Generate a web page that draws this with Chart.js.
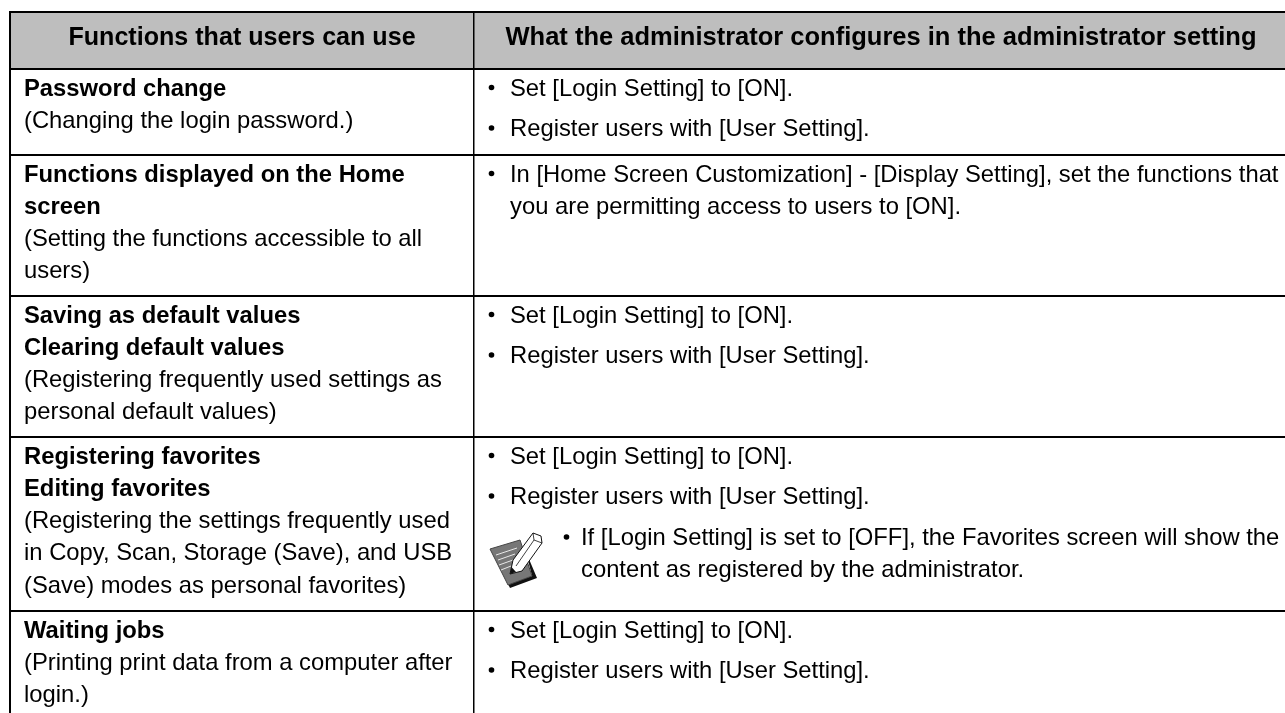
<!DOCTYPE html>
<html>
<head>
<meta charset="utf-8">
<title>Functions that users can use</title>
<style>
  html, body { margin: 0; padding: 0; background: #fff; }
  canvas { display: block; }
</style>
<script src="https://cdn.jsdelivr.net/npm/chart.js@4/dist/chart.umd.min.js"></script>
</head>
<body>
<canvas id="table-chart" width="1285" height="713"></canvas>
<script>
// Table content
const headers = ['Functions that users can use', 'What the administrator configures in the administrator setting'];
const functionTitles = [
    ['Password change'],
    ['Functions displayed on the Home', 'screen'],
    ['Saving as default values', 'Clearing default values'],
    ['Registering favorites', 'Editing favorites'],
    ['Waiting jobs']
];
const functionNotes = [
    ['(Changing the login password.)'],
    ['(Setting the functions accessible to all', 'users)'],
    ['(Registering frequently used settings as', 'personal default values)'],
    ['(Registering the settings frequently used', 'in Copy, Scan, Storage (Save), and USB', '(Save) modes as personal favorites)'],
    ['(Printing print data from a computer after', 'login.)']
];
const adminSteps = [
    ['Set [Login Setting] to [ON].', 'Register users with [User Setting].'],
    [['In [Home Screen Customization] - [Display Setting], set the functions that', 'you are permitting access to users to [ON].']],
    ['Set [Login Setting] to [ON].', 'Register users with [User Setting].'],
    ['Set [Login Setting] to [ON].', 'Register users with [User Setting].'],
    ['Set [Login Setting] to [ON].', 'Register users with [User Setting].']
];
const adminNote = ['If [Login Setting] is set to [OFF], the Favorites screen will show the', 'content as registered by the administrator.'];

// Layout, in scale units (the scales run 1:1 with the canvas)
const ruleYs = [12, 69, 155, 296, 437, 611];
const ruleXs = [10, 474];
const LEFT_TEXT_X = 24;
const RIGHT_TEXT_X = 510;
const BULLET_X = 491.5;
const NOTE_TEXT_X = 581;
const NOTE_BULLET_X = 566.5;
const LINE_PITCH = 32.3;
const STEP_PITCH = 40.5;
const FIRST_BASELINE = 26.5;
const NOTE_BASELINE = 545;
const HEADER_BASELINE = 45;
const headerCenters = [242, 881];
const headerFonts = [
    'bold 25.1px "Liberation Sans", Arial, sans-serif',
    'bold 25.5px "Liberation Sans", Arial, sans-serif'
];
const FONT_BODY = '23.8px "Liberation Sans", Arial, sans-serif';
const FONT_BOLD = 'bold 23.8px "Liberation Sans", Arial, sans-serif';

function bulletPoints() {
    const pts = [];
    adminSteps.forEach((steps, r) => {
        const top = ruleYs[r + 1] + FIRST_BASELINE;
        steps.forEach((step, i) => pts.push({ x: BULLET_X, y: top + i * STEP_PITCH - 8 }));
    });
    pts.push({ x: NOTE_BULLET_X, y: NOTE_BASELINE - 8 });
    return pts;
}

const tablePlugin = {
    id: 'tableCells',
    beforeDraw(chart) {
        const { ctx, scales: { x, y } } = chart;
        ctx.save();
        ctx.fillStyle = '#bebebe';
        ctx.fillRect(x.getPixelForValue(ruleXs[0]), y.getPixelForValue(ruleYs[0]),
            x.right - x.getPixelForValue(ruleXs[0]), y.getPixelForValue(ruleYs[1]) - y.getPixelForValue(ruleYs[0]));
        ctx.restore();
    },
    afterDraw(chart) {
        const { ctx, scales: { x, y } } = chart;
        const put = (text, px, py) => ctx.fillText(text, x.getPixelForValue(px), Math.round(y.getPixelForValue(py)));
        ctx.save();
        ctx.fillStyle = '#000';
        ctx.textBaseline = 'alphabetic';

        // header
        ctx.textAlign = 'center';
        headers.forEach((h, i) => {
            ctx.font = headerFonts[i];
            put(h, headerCenters[i], HEADER_BASELINE);
        });

        // left column
        ctx.textAlign = 'left';
        functionTitles.forEach((titles, r) => {
            const top = ruleYs[r + 1] + FIRST_BASELINE;
            let line = 0;
            ctx.font = FONT_BOLD;
            titles.forEach(t => put(t, LEFT_TEXT_X, top + LINE_PITCH * line++));
            ctx.font = FONT_BODY;
            functionNotes[r].forEach(t => put(t, LEFT_TEXT_X, top + LINE_PITCH * line++));
        });

        // right column
        ctx.font = FONT_BODY;
        adminSteps.forEach((steps, r) => {
            const top = ruleYs[r + 1] + FIRST_BASELINE;
            steps.forEach((step, i) => {
                const lines = Array.isArray(step) ? step : [step];
                lines.forEach((t, j) => put(t, RIGHT_TEXT_X, top + i * STEP_PITCH + j * LINE_PITCH));
            });
        });
        adminNote.forEach((t, j) => put(t, NOTE_TEXT_X, NOTE_BASELINE + j * LINE_PITCH));

        drawMemoIcon(ctx, x.getPixelForValue(490), y.getPixelForValue(532));
        ctx.restore();
    }
};

// Memo icon: sheet of paper with a pencil across it
function drawMemoIcon(ctx, ox, oy) {
    const poly = (pts, fill, stroke) => {
        ctx.beginPath();
        pts.forEach((p, i) => i ? ctx.lineTo(ox + p[0], oy + p[1]) : ctx.moveTo(ox + p[0], oy + p[1]));
        ctx.closePath();
        if (fill) { ctx.fillStyle = fill; ctx.fill(); }
        if (stroke) { ctx.strokeStyle = stroke; ctx.lineWidth = 1; ctx.stroke(); }
    };
    const seg = l => {
        ctx.beginPath();
        ctx.moveTo(ox + l[0], oy + l[1]);
        ctx.lineTo(ox + l[2], oy + l[3]);
        ctx.stroke();
    };
    ctx.save();
    // shadow, sheet, ruled lines
    poly([[36, 20], [47, 46], [20, 56], [18, 52], [42, 44]], '#111');
    poly([[0, 17], [30, 8], [42, 44], [18, 53]], '#777', '#444');
    ctx.strokeStyle = '#e8e8e8';
    ctx.lineWidth = 1;
    [[6, 23, 27, 16], [8, 28, 25, 22], [9, 33, 23, 28], [11, 38, 21, 34]].forEach(seg);
    // pencil
    poly([[20, 42], [23, 28], [43, 1], [51, 4], [52, 11], [32, 39]], '#fff', '#111');
    poly([[20, 42], [21.5, 35], [26, 40]], '#111');
    ctx.strokeStyle = '#111';
    ctx.lineWidth = 0.8;
    [[43, 1, 44, 8], [44, 8, 52, 11], [44, 8, 26, 34]].forEach(seg);
    ctx.restore();
}

new Chart(document.getElementById('table-chart'), {
    type: 'scatter',
    data: {
        datasets: [{
            label: 'Bullets',
            data: bulletPoints(),
            backgroundColor: '#000',
            borderWidth: 0,
            pointRadius: 2.8,
            pointHoverRadius: 2.8
        }]
    },
    options: {
        responsive: false,
        animation: false,
        events: [],
        layout: { autoPadding: false, padding: { left: 9, top: 11, right: 0, bottom: 0 } },
        plugins: { legend: { display: false }, tooltip: { enabled: false } },
        scales: {
            x: {
                type: 'linear',
                min: 9,
                max: 1285,
                border: { display: false },
                ticks: { display: false },
                grid: { color: '#000', lineWidth: [2, 1.5], drawTicks: false },
                afterBuildTicks: axis => { axis.ticks = ruleXs.map(v => ({ value: v })); }
            },
            y: {
                type: 'linear',
                reverse: true,
                min: 11,
                max: 713,
                border: { display: false },
                ticks: { display: false },
                grid: { color: '#000', lineWidth: 2, drawTicks: false },
                afterBuildTicks: axis => { axis.ticks = ruleYs.map(v => ({ value: v })); }
            }
        }
    },
    plugins: [tablePlugin]
});
</script>
</body>
</html>
